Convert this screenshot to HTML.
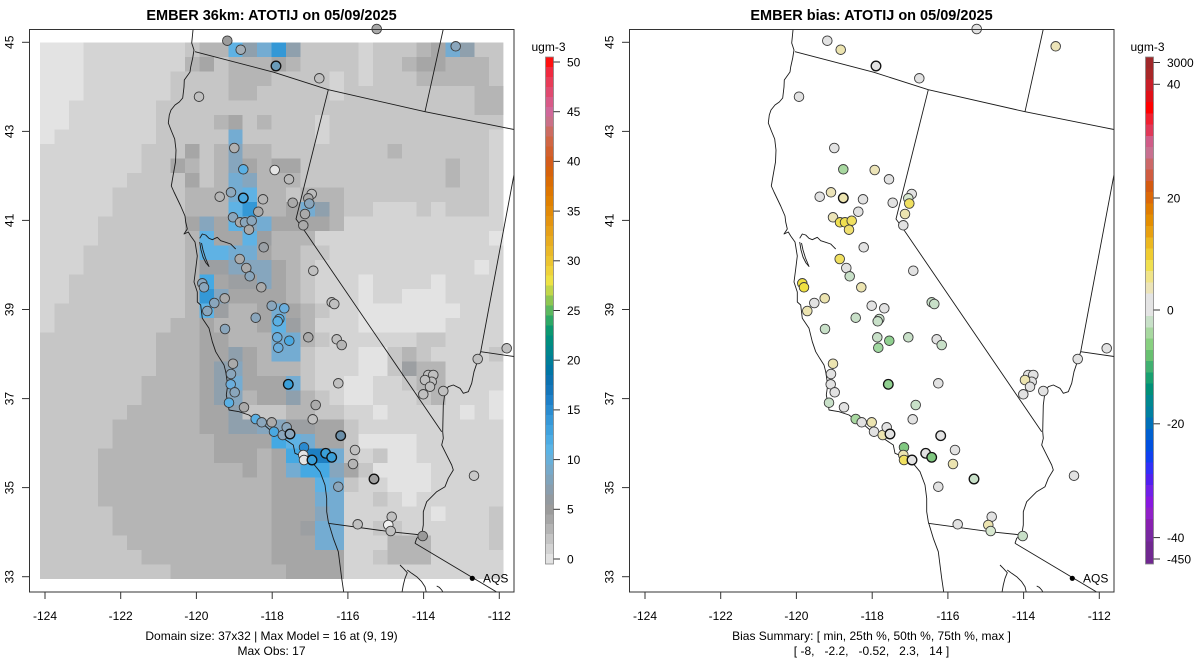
<!DOCTYPE html>
<html><head><meta charset="utf-8"><style>
html,body{margin:0;padding:0;background:#fff}
svg{display:block}
text{font-family:"Liberation Sans",Arial,sans-serif;fill:#000}
.k0{fill:#e3e3e3}.k1{fill:#d4d4d4}.k3{fill:#b5b5b5}.k4{fill:#a6a6a6}.k5{fill:#9c9fa2}.k6{fill:#8fa0ad}.k7{fill:#86a6be}.k8{fill:#74acd2}.k9{fill:#5fb2e4}.ka{fill:#45a9e3}.kb{fill:#3498d6}.kc{fill:#1d80c4}
.ln{fill:none;stroke:#1a1a1a;stroke-width:0.9;stroke-linejoin:round}
.st circle{stroke:#3a3a3a;stroke-width:0.9}
.st circle.t{stroke:#111;stroke-width:1.3}
.tk{stroke:#333;stroke-width:1}
.lab{font-size:12px}
</style></head><body>
<svg width="1200" height="672" viewBox="0 0 1200 672" xmlns="http://www.w3.org/2000/svg">
<defs>
<clipPath id="pc"><rect x="29" y="29" width="485" height="563"/></clipPath>
</defs>
<rect width="1200" height="672" fill="#fff"/>

<!-- LEFT GRID -->
<svg x="40" y="42.3" width="463.4" height="536.7" viewBox="0 0 32 37" preserveAspectRatio="none" shape-rendering="crispEdges">
<rect x="0" y="0" width="32" height="37" fill="#c6c6c6"/>
<path class="k0" d="M0 0h3v1h-3z"/><path class="k1" d="M3 0h7v1h-7z"/><path class="k3" d="M11 0h2v1h-2z"/><path class="k9" d="M13 0h1v1h-1z"/><path class="k6" d="M14 0h1v1h-1z"/><path class="k8" d="M15 0h1v1h-1z"/><path class="kb" d="M16 0h1v1h-1z"/><path class="k6" d="M17 0h1v1h-1z"/><path class="k1" d="M22 0h1v1h-1z"/><path class="k3" d="M26 0h1v1h-1z"/><path class="k4" d="M27 0h1v1h-1z"/><path class="k8" d="M28 0h1v1h-1z"/><path class="k6" d="M29 0h1v1h-1z"/>
<path class="k0" d="M0 1h3v1h-3z"/><path class="k1" d="M3 1h7v1h-7z"/><path class="k3" d="M10 1h1v1h-1z"/><path class="k4" d="M11 1h1v1h-1z"/><path class="k3" d="M13 1h3v1h-3z"/><path class="k4" d="M16 1h1v1h-1z"/><path class="k3" d="M17 1h1v1h-1z"/><path class="k1" d="M22 1h1v1h-1z"/><path class="k3" d="M25 1h1v1h-1z"/><path class="k4" d="M26 1h2v1h-2z"/><path class="k3" d="M28 1h3v1h-3z"/>
<path class="k0" d="M0 2h3v1h-3z"/><path class="k1" d="M3 2h6v1h-6z"/><path class="k3" d="M13 2h3v1h-3z"/><path class="k1" d="M20 2h1v1h-1z"/><path class="k1" d="M22 2h1v1h-1z"/><path class="k3" d="M26 2h5v1h-5z"/>
<path class="k0" d="M0 3h3v1h-3z"/><path class="k1" d="M3 3h6v1h-6z"/><path class="k3" d="M13 3h2v1h-2z"/><path class="k1" d="M20 3h1v1h-1z"/><path class="k3" d="M30 3h2v1h-2z"/>
<path class="k0" d="M0 4h2v1h-2z"/><path class="k1" d="M2 4h6v1h-6z"/><path class="k3" d="M30 4h2v1h-2z"/>
<path class="k0" d="M0 5h2v1h-2z"/><path class="k1" d="M2 5h6v1h-6z"/><path class="k3" d="M12 5h1v1h-1z"/><path class="k4" d="M13 5h1v1h-1z"/><path class="k3" d="M15 5h1v1h-1z"/><path class="k1" d="M19 5h1v1h-1z"/>
<path class="k0" d="M0 6h1v1h-1z"/><path class="k1" d="M1 6h7v1h-7z"/><path class="k8" d="M13 6h1v1h-1z"/><path class="k1" d="M19 6h1v1h-1z"/><path class="k1" d="M31 6h1v1h-1z"/>
<path class="k1" d="M0 7h7v1h-7z"/><path class="k4" d="M10 7h1v1h-1z"/><path class="k3" d="M12 7h1v1h-1z"/><path class="k7" d="M13 7h1v1h-1z"/><path class="k3" d="M14 7h2v1h-2z"/><path class="k3" d="M24 7h1v1h-1z"/><path class="k1" d="M31 7h1v1h-1z"/>
<path class="k1" d="M0 8h7v1h-7z"/><path class="k4" d="M9 8h1v1h-1z"/><path class="k3" d="M10 8h1v1h-1z"/><path class="k3" d="M12 8h1v1h-1z"/><path class="k7" d="M13 8h1v1h-1z"/><path class="k4" d="M14 8h1v1h-1z"/><path class="k3" d="M15 8h1v1h-1z"/><path class="k4" d="M16 8h2v1h-2z"/><path class="k3" d="M28 8h1v1h-1z"/><path class="k1" d="M31 8h1v1h-1z"/>
<path class="k1" d="M0 9h6v1h-6z"/><path class="k4" d="M10 9h1v1h-1z"/><path class="k3" d="M12 9h1v1h-1z"/><path class="k8" d="M13 9h1v1h-1z"/><path class="k7" d="M14 9h1v1h-1z"/><path class="k3" d="M15 9h3v1h-3z"/><path class="k3" d="M28 9h1v1h-1z"/><path class="k1" d="M31 9h1v1h-1z"/>
<path class="k1" d="M0 10h5v1h-5z"/><path class="k3" d="M10 10h3v1h-3z"/><path class="k8" d="M13 10h1v1h-1z"/><path class="k9" d="M14 10h1v1h-1z"/><path class="k3" d="M15 10h2v1h-2z"/><path class="k3" d="M18 10h3v1h-3z"/><path class="k1" d="M31 10h1v1h-1z"/>
<path class="k1" d="M0 11h5v1h-5z"/><path class="k3" d="M10 11h3v1h-3z"/><path class="k9" d="M13 11h1v1h-1z"/><path class="kb" d="M14 11h1v1h-1z"/><path class="k3" d="M15 11h2v1h-2z"/><path class="k4" d="M17 11h1v1h-1z"/><path class="k8" d="M18 11h1v1h-1z"/><path class="k6" d="M19 11h1v1h-1z"/><path class="k3" d="M20 11h1v1h-1z"/><path class="k1" d="M23 11h3v1h-3z"/><path class="k1" d="M27 11h1v1h-1z"/><path class="k1" d="M31 11h1v1h-1z"/>
<path class="k1" d="M0 12h4v1h-4z"/><path class="k4" d="M10 12h1v1h-1z"/><path class="k7" d="M11 12h1v1h-1z"/><path class="k4" d="M12 12h1v1h-1z"/><path class="k9" d="M13 12h1v1h-1z"/><path class="k7" d="M14 12h1v1h-1z"/><path class="k8" d="M15 12h1v1h-1z"/><path class="k4" d="M16 12h4v1h-4z"/><path class="k3" d="M20 12h1v1h-1z"/><path class="k1" d="M21 12h11v1h-11z"/>
<path class="k1" d="M0 13h4v1h-4z"/><path class="k3" d="M10 13h1v1h-1z"/><path class="k9" d="M11 13h1v1h-1z"/><path class="k4" d="M12 13h2v1h-2z"/><path class="k9" d="M14 13h1v1h-1z"/><path class="k5" d="M15 13h1v1h-1z"/><path class="k3" d="M16 13h3v1h-3z"/><path class="k1" d="M19 13h12v1h-12z"/><path class="k0" d="M31 13h1v1h-1z"/>
<path class="k1" d="M0 14h3v1h-3z"/><path class="k3" d="M10 14h1v1h-1z"/><path class="k9" d="M11 14h2v1h-2z"/><path class="k8" d="M13 14h2v1h-2z"/><path class="k4" d="M15 14h1v1h-1z"/><path class="k3" d="M16 14h2v1h-2z"/><path class="k1" d="M20 14h12v1h-12z"/>
<path class="k1" d="M0 15h3v1h-3z"/><path class="k3" d="M10 15h1v1h-1z"/><path class="k5" d="M11 15h2v1h-2z"/><path class="k7" d="M13 15h3v1h-3z"/><path class="k4" d="M16 15h1v1h-1z"/><path class="k3" d="M17 15h1v1h-1z"/><path class="k1" d="M19 15h11v1h-11z"/><path class="k0" d="M30 15h1v1h-1z"/><path class="k1" d="M31 15h1v1h-1z"/>
<path class="k1" d="M0 16h2v1h-2z"/><path class="k3" d="M10 16h1v1h-1z"/><path class="ka" d="M11 16h1v1h-1z"/><path class="k4" d="M12 16h1v1h-1z"/><path class="k5" d="M13 16h2v1h-2z"/><path class="k7" d="M15 16h1v1h-1z"/><path class="k4" d="M16 16h1v1h-1z"/><path class="k3" d="M17 16h1v1h-1z"/><path class="k1" d="M19 16h3v1h-3z"/><path class="k0" d="M22 16h1v1h-1z"/><path class="k1" d="M23 16h4v1h-4z"/><path class="k0" d="M27 16h1v1h-1z"/><path class="k1" d="M28 16h4v1h-4z"/>
<path class="k1" d="M0 17h2v1h-2z"/><path class="k3" d="M10 17h1v1h-1z"/><path class="kb" d="M11 17h1v1h-1z"/><path class="k7" d="M12 17h1v1h-1z"/><path class="k4" d="M13 17h4v1h-4z"/><path class="k3" d="M17 17h1v1h-1z"/><path class="k1" d="M19 17h3v1h-3z"/><path class="k0" d="M22 17h1v1h-1z"/><path class="k1" d="M23 17h2v1h-2z"/><path class="k0" d="M25 17h3v1h-3z"/><path class="k1" d="M28 17h4v1h-4z"/>
<path class="k1" d="M0 18h1v1h-1z"/><path class="k3" d="M10 18h1v1h-1z"/><path class="k9" d="M11 18h1v1h-1z"/><path class="k5" d="M12 18h1v1h-1z"/><path class="k3" d="M13 18h2v1h-2z"/><path class="k4" d="M15 18h1v1h-1z"/><path class="k8" d="M16 18h1v1h-1z"/><path class="k4" d="M17 18h1v1h-1z"/><path class="k3" d="M18 18h1v1h-1z"/><path class="k1" d="M20 18h2v1h-2z"/><path class="k0" d="M22 18h7v1h-7z"/><path class="k1" d="M29 18h3v1h-3z"/>
<path class="k1" d="M0 19h1v1h-1z"/><path class="k3" d="M9 19h2v1h-2z"/><path class="k4" d="M11 19h1v1h-1z"/><path class="k3" d="M12 19h3v1h-3z"/><path class="k4" d="M15 19h1v1h-1z"/><path class="k9" d="M16 19h1v1h-1z"/><path class="k5" d="M17 19h1v1h-1z"/><path class="k3" d="M18 19h1v1h-1z"/><path class="k1" d="M19 19h3v1h-3z"/><path class="k0" d="M22 19h6v1h-6z"/><path class="k1" d="M28 19h4v1h-4z"/>
<path class="k3" d="M8 20h3v1h-3z"/><path class="k4" d="M11 20h2v1h-2z"/><path class="k3" d="M13 20h3v1h-3z"/><path class="k8" d="M16 20h2v1h-2z"/><path class="k3" d="M18 20h1v1h-1z"/><path class="k1" d="M20 20h6v1h-6z"/><path class="k1" d="M28 20h4v1h-4z"/>
<path class="k3" d="M8 21h3v1h-3z"/><path class="k4" d="M11 21h2v1h-2z"/><path class="k6" d="M13 21h1v1h-1z"/><path class="k4" d="M14 21h1v1h-1z"/><path class="k3" d="M15 21h1v1h-1z"/><path class="k8" d="M16 21h2v1h-2z"/><path class="k1" d="M19 21h3v1h-3z"/><path class="k0" d="M22 21h2v1h-2z"/><path class="k3" d="M25 21h1v1h-1z"/><path class="k1" d="M27 21h4v1h-4z"/>
<path class="k3" d="M8 22h3v1h-3z"/><path class="k4" d="M11 22h1v1h-1z"/><path class="k6" d="M12 22h1v1h-1z"/><path class="k7" d="M13 22h1v1h-1z"/><path class="k4" d="M14 22h1v1h-1z"/><path class="k3" d="M15 22h3v1h-3z"/><path class="k1" d="M19 22h3v1h-3z"/><path class="k0" d="M22 22h2v1h-2z"/><path class="k5" d="M25 22h1v1h-1z"/><path class="k3" d="M26 22h2v1h-2z"/><path class="k1" d="M28 22h4v1h-4z"/>
<path class="k3" d="M7 23h4v1h-4z"/><path class="k4" d="M11 23h1v1h-1z"/><path class="k6" d="M12 23h1v1h-1z"/><path class="k8" d="M13 23h1v1h-1z"/><path class="k4" d="M14 23h3v1h-3z"/><path class="k8" d="M17 23h1v1h-1z"/><path class="k1" d="M19 23h2v1h-2z"/><path class="k0" d="M21 23h2v1h-2z"/><path class="k1" d="M23 23h2v1h-2z"/><path class="k3" d="M26 23h2v1h-2z"/><path class="k1" d="M28 23h4v1h-4z"/>
<path class="k3" d="M7 24h4v1h-4z"/><path class="k4" d="M11 24h1v1h-1z"/><path class="k6" d="M12 24h1v1h-1z"/><path class="k7" d="M13 24h1v1h-1z"/><path class="k3" d="M14 24h1v1h-1z"/><path class="k4" d="M15 24h2v1h-2z"/><path class="k6" d="M17 24h1v1h-1z"/><path class="k3" d="M18 24h1v1h-1z"/><path class="k1" d="M20 24h1v1h-1z"/><path class="k0" d="M21 24h2v1h-2z"/><path class="k1" d="M23 24h3v1h-3z"/><path class="k3" d="M27 24h1v1h-1z"/><path class="k1" d="M28 24h3v1h-3z"/><path class="k0" d="M31 24h1v1h-1z"/>
<path class="k3" d="M6 25h5v1h-5z"/><path class="k4" d="M11 25h2v1h-2z"/><path class="k6" d="M13 25h1v1h-1z"/><path class="k3" d="M17 25h2v1h-2z"/><path class="k1" d="M21 25h2v1h-2z"/><path class="k0" d="M23 25h1v1h-1z"/><path class="k1" d="M24 25h5v1h-5z"/><path class="k0" d="M29 25h1v1h-1z"/><path class="k1" d="M30 25h1v1h-1z"/><path class="k0" d="M31 25h1v1h-1z"/>
<path class="k3" d="M5 26h6v1h-6z"/><path class="k4" d="M11 26h2v1h-2z"/><path class="k6" d="M13 26h2v1h-2z"/><path class="k7" d="M15 26h2v1h-2z"/><path class="k5" d="M17 26h2v1h-2z"/><path class="k4" d="M19 26h2v1h-2z"/><path class="k1" d="M22 26h10v1h-10z"/>
<path class="k3" d="M5 27h7v1h-7z"/><path class="k4" d="M12 27h4v1h-4z"/><path class="ka" d="M16 27h1v1h-1z"/><path class="k9" d="M17 27h1v1h-1z"/><path class="k8" d="M18 27h1v1h-1z"/><path class="k4" d="M19 27h2v1h-2z"/><path class="k0" d="M22 27h4v1h-4z"/><path class="k1" d="M26 27h6v1h-6z"/>
<path class="k3" d="M4 28h8v1h-8z"/><path class="k4" d="M12 28h3v1h-3z"/><path class="k3" d="M15 28h1v1h-1z"/><path class="k4" d="M16 28h1v1h-1z"/><path class="ka" d="M17 28h1v1h-1z"/><path class="kc" d="M18 28h2v1h-2z"/><path class="k8" d="M20 28h1v1h-1z"/><path class="k1" d="M22 28h1v1h-1z"/><path class="k0" d="M24 28h2v1h-2z"/><path class="k1" d="M26 28h6v1h-6z"/>
<path class="k3" d="M4 29h10v1h-10z"/><path class="k4" d="M14 29h1v1h-1z"/><path class="k3" d="M15 29h1v1h-1z"/><path class="k4" d="M16 29h1v1h-1z"/><path class="k8" d="M17 29h1v1h-1z"/><path class="ka" d="M18 29h2v1h-2z"/><path class="k7" d="M20 29h1v1h-1z"/><path class="k4" d="M21 29h1v1h-1z"/><path class="k0" d="M23 29h4v1h-4z"/><path class="k1" d="M27 29h5v1h-5z"/>
<path class="k3" d="M4 30h12v1h-12z"/><path class="k4" d="M16 30h3v1h-3z"/><path class="k9" d="M19 30h1v1h-1z"/><path class="k8" d="M20 30h1v1h-1z"/><path class="k1" d="M22 30h2v1h-2z"/><path class="k0" d="M24 30h3v1h-3z"/><path class="k1" d="M27 30h5v1h-5z"/>
<path class="k3" d="M4 31h12v1h-12z"/><path class="k4" d="M16 31h3v1h-3z"/><path class="k8" d="M19 31h2v1h-2z"/><path class="k1" d="M21 31h2v1h-2z"/><path class="k1" d="M24 31h1v1h-1z"/><path class="k0" d="M25 31h1v1h-1z"/><path class="k1" d="M26 31h6v1h-6z"/>
<path class="k3" d="M5 32h11v1h-11z"/><path class="k4" d="M16 32h3v1h-3z"/><path class="k7" d="M19 32h1v1h-1z"/><path class="k8" d="M20 32h1v1h-1z"/><path class="k1" d="M21 32h6v1h-6z"/><path class="k0" d="M27 32h1v1h-1z"/><path class="k1" d="M28 32h3v1h-3z"/>
<path class="k3" d="M5 33h11v1h-11z"/><path class="k4" d="M16 33h2v1h-2z"/><path class="k5" d="M18 33h1v1h-1z"/><path class="k8" d="M19 33h2v1h-2z"/><path class="k1" d="M21 33h2v1h-2z"/><path class="k1" d="M25 33h6v1h-6z"/>
<path class="k3" d="M6 34h10v1h-10z"/><path class="k4" d="M16 34h3v1h-3z"/><path class="k8" d="M19 34h2v1h-2z"/><path class="k1" d="M21 34h3v1h-3z"/><path class="k3" d="M24 34h3v1h-3z"/><path class="k1" d="M27 34h4v1h-4z"/>
<path class="k3" d="M7 35h9v1h-9z"/><path class="k4" d="M16 35h5v1h-5z"/><path class="k1" d="M21 35h2v1h-2z"/><path class="k3" d="M24 35h3v1h-3z"/><path class="k1" d="M27 35h5v1h-5z"/>
<path class="k3" d="M9 36h8v1h-8z"/><path class="k4" d="M17 36h4v1h-4z"/><path class="k1" d="M21 36h11v1h-11z"/>
</svg>

<!-- MAP LINES (left) -->
<g id="lines" clip-path="url(#pc)">
<polyline class="ln" points="193.3,27 192.7,33 191.7,43 194,50 192.7,58 190.7,67 190,72 184.3,80 184,87 182.7,98 179.3,102 175,105 171,110 169.3,115 168.3,123 171,130 174.7,139 176,150 175.5,162 173,176 171.3,186 174,192 180.7,206 185,216 185.7,222 187.3,229 184,234 188.3,232 190.7,236 195,242 197.3,256 195.7,269 194,282 197.3,292 197.3,302 200.7,305 202.3,318.3 209,328.3 212.3,341.7 215.7,351.7 219.7,358.3 224,365 225.7,371.7 227.7,385 226.3,395 228.3,405 229,410 239,411.7 249,415 255.7,420 262.3,423.3 270,430 283.3,438.3 293.3,445 295,453.3 303.3,456.7 311.7,461.7 320,471.7 325,485 326.7,498.3 326.7,511.7 328.3,521.7 333.3,538.3 338.3,551.7 340,565 341.7,578.3 344,594"/>
<polyline class="ln" points="199.7,238.3 202.3,234 205.7,235 209,238.3 212.3,239.7 217.3,237.3 220.7,240.7 225.7,242.3 230.7,244 233,246.3 235.7,249"/>
<polyline class="ln" points="199.7,242 201,250 203,257 206,263 209,266.5 205.5,258 203,250 201.5,243"/>
<polyline class="ln" points="195,51.7 274,72.3 328.3,89.7 425,111.7 516,129.9"/>
<polyline class="ln" points="425,111.7 443.3,29 444.5,26"/>
<polyline class="ln" points="328.3,89.7 296,219 303.3,229 441.7,431.7"/>
<polyline class="ln" points="516,164 488.3,311 480.7,351.7 516,356.8"/>
<polyline class="ln" points="480.7,351.7 474,371.7 471.7,383.3 468.3,391.7 463.3,393.3 460,388.3 453.3,385 448.3,386.7 445,391.7 443.3,405 442.7,431.7 443.3,438.3 441.7,445 445,451.7 451.7,465 453.3,470 448.3,478.3 445,486.7 436.7,491.7 426.7,501.7 423.3,511.7 423.3,525 421.7,535 416.7,538.3 415,543.3"/>
<polyline class="ln" points="328.3,523.3 390,531.7 421.7,535"/>
<polyline class="ln" points="415,543.3 500,594"/>
<polyline class="ln" points="400,565 403.3,568.3 407.3,572.7 405,578.3 403.3,585 401.7,594"/>
<polyline class="ln" points="407.3,570 411.7,573.3 416.7,576.7 421.7,581.7 425,586.7 426.7,594"/>
<polyline class="ln" points="436.7,586 439.3,587.3 441.7,590 444,594"/>
</g>
<use href="#lines" transform="translate(600,0)"/>

<!-- LEFT STATIONS -->
<g class="st">
<circle cx="227.3" cy="40.7" r="4.8" fill="#9c9c9c"/>
<circle cx="240.7" cy="49.7" r="4.8" fill="#a3adb5"/>
<circle class="t" cx="276" cy="66" r="4.8" fill="#6a9bb8"/>
<circle cx="319.3" cy="78.3" r="4.8" fill="#c0c0c0"/>
<circle cx="376.7" cy="29" r="4.8" fill="#aaaaaa"/>
<circle cx="455.7" cy="46.3" r="4.8" fill="#8aa6bc"/>
<circle cx="199" cy="96.7" r="4.8" fill="#c0c0c0"/>
<circle cx="234.3" cy="148" r="4.8" fill="#b0b0b0"/>
<circle cx="243.3" cy="169.3" r="4.8" fill="#5ab0e4"/>
<circle cx="274.7" cy="170" r="4.8" fill="#e4e4e4"/>
<circle cx="289" cy="179.3" r="4.8" fill="#bbbbbb"/>
<circle cx="219.7" cy="196.7" r="4.8" fill="#b5b5b5"/>
<circle cx="231" cy="192.3" r="4.8" fill="#8ea8bc"/>
<circle class="t" cx="243.3" cy="198" r="4.8" fill="#4aa8e0"/>
<circle cx="263" cy="199.3" r="4.8" fill="#b5b5b5"/>
<circle cx="258.3" cy="211.7" r="4.8" fill="#aaaaaa"/>
<circle cx="233" cy="217.3" r="4.8" fill="#8aa6bc"/>
<circle cx="240" cy="222.3" r="4.8" fill="#aaaaaa"/>
<circle cx="245" cy="222.3" r="4.8" fill="#8aa6bc"/>
<circle cx="251.7" cy="220.7" r="4.8" fill="#8aa6bc"/>
<circle cx="249" cy="229.7" r="4.8" fill="#aaaaaa"/>
<circle cx="263.7" cy="247.3" r="4.8" fill="#9aa0a6"/>
<circle cx="239.7" cy="259" r="4.8" fill="#aaaaaa"/>
<circle cx="246.3" cy="268" r="4.8" fill="#aaaaaa"/>
<circle cx="249.7" cy="276.3" r="4.8" fill="#8aa6bc"/>
<circle cx="261.3" cy="287.3" r="4.8" fill="#aaaaaa"/>
<circle cx="202.3" cy="283.3" r="4.8" fill="#8aa6bc"/>
<circle cx="204" cy="287.3" r="4.8" fill="#8aa6bc"/>
<circle cx="214.3" cy="303" r="4.8" fill="#8aa6bc"/>
<circle cx="224.7" cy="298.3" r="4.8" fill="#aaaaaa"/>
<circle cx="207.3" cy="311" r="4.8" fill="#8aa6bc"/>
<circle cx="225" cy="329" r="4.8" fill="#8aa6bc"/>
<circle cx="255.7" cy="317.7" r="4.8" fill="#8aa6bc"/>
<circle cx="271.7" cy="305.7" r="4.8" fill="#8aa6bc"/>
<circle cx="284.3" cy="308.3" r="4.8" fill="#6aaedd"/>
<circle cx="279.3" cy="319" r="4.8" fill="#5ab0e4"/>
<circle cx="277.7" cy="321.3" r="4.8" fill="#5ab0e4"/>
<circle cx="277.3" cy="337.3" r="4.8" fill="#6aaedd"/>
<circle cx="289.3" cy="340.7" r="4.8" fill="#4aa8e0"/>
<circle cx="278.3" cy="347.7" r="4.8" fill="#6aaedd"/>
<circle cx="308.3" cy="337.3" r="4.8" fill="#aaaaaa"/>
<circle cx="336.7" cy="339.3" r="4.8" fill="#c0c0c0"/>
<circle cx="341.7" cy="345" r="4.8" fill="#b5b5b5"/>
<circle cx="331.7" cy="302.3" r="4.8" fill="#c0c0c0"/>
<circle cx="334.3" cy="304" r="4.8" fill="#c0c0c0"/>
<circle cx="313.3" cy="270.7" r="4.8" fill="#c0c0c0"/>
<circle cx="292.7" cy="202.7" r="4.8" fill="#aaaaaa"/>
<circle cx="311.7" cy="194" r="4.8" fill="#bbbbbb"/>
<circle cx="308.3" cy="198.3" r="4.8" fill="#aaaaaa"/>
<circle cx="309.3" cy="203.5" r="4.8" fill="#8aa6bc"/>
<circle cx="305" cy="214" r="4.8" fill="#aaaaaa"/>
<circle cx="303.3" cy="225.3" r="4.8" fill="#aaaaaa"/>
<circle class="t" cx="288.3" cy="384.3" r="4.8" fill="#3a9fd9"/>
<circle cx="338.3" cy="383.3" r="4.8" fill="#c0c0c0"/>
<circle cx="233" cy="363.7" r="4.8" fill="#aaaaaa"/>
<circle cx="231" cy="374" r="4.8" fill="#8aa6bc"/>
<circle cx="230.7" cy="384.3" r="4.8" fill="#6aaedd"/>
<circle cx="234.7" cy="392.3" r="4.8" fill="#8aa6bc"/>
<circle cx="229" cy="402.7" r="4.8" fill="#5ab0e4"/>
<circle cx="244" cy="407.3" r="4.8" fill="#aaaaaa"/>
<circle cx="255.7" cy="419" r="4.8" fill="#5ab0e4"/>
<circle cx="261.7" cy="422.3" r="4.8" fill="#8aa6bc"/>
<circle cx="271.7" cy="422.3" r="4.8" fill="#aaaaaa"/>
<circle cx="274" cy="431.7" r="4.8" fill="#4aa8e0"/>
<circle cx="282.7" cy="435" r="4.8" fill="#8aa6bc"/>
<circle cx="286.7" cy="427.3" r="4.8" fill="#8aa6bc"/>
<circle class="t" cx="290" cy="434" r="4.8" fill="#8aa6bc"/>
<circle cx="315.7" cy="405" r="4.8" fill="#aaaaaa"/>
<circle cx="312.7" cy="419.3" r="4.8" fill="#c0c0c0"/>
<circle class="t" cx="340.7" cy="435.7" r="4.8" fill="#6a8ea8"/>
<circle cx="304" cy="447.3" r="4.8" fill="#2a8ad0"/>
<circle cx="303.3" cy="455" r="4.8" fill="#e4e4e4"/>
<circle cx="304" cy="460" r="4.8" fill="#e4e4e4"/>
<circle class="t" cx="312" cy="460" r="4.8" fill="#3a9fd9"/>
<circle class="t" cx="325.7" cy="453.3" r="4.8" fill="#3a9fd9"/>
<circle class="t" cx="331.7" cy="457.3" r="4.8" fill="#3a9fd9"/>
<circle cx="355" cy="450" r="4.8" fill="#c0c0c0"/>
<circle cx="353" cy="464" r="4.8" fill="#b5b5b5"/>
<circle class="t" cx="374" cy="479" r="4.8" fill="#a0a0a0"/>
<circle cx="338.3" cy="486.7" r="4.8" fill="#8aa6bc"/>
<circle cx="474" cy="475.7" r="4.8" fill="#c8c8c8"/>
<circle cx="428.3" cy="375" r="4.8" fill="#c0c0c0"/>
<circle cx="433.3" cy="375" r="4.8" fill="#c0c0c0"/>
<circle cx="431.7" cy="381.7" r="4.8" fill="#c0c0c0"/>
<circle cx="425" cy="380" r="4.8" fill="#c0c0c0"/>
<circle cx="430" cy="386.7" r="4.8" fill="#c0c0c0"/>
<circle cx="423.3" cy="394.3" r="4.8" fill="#c0c0c0"/>
<circle cx="443.3" cy="391" r="4.8" fill="#c0c0c0"/>
<circle cx="477.7" cy="359" r="4.8" fill="#c0c0c0"/>
<circle cx="506.7" cy="348.3" r="4.8" fill="#c0c0c0"/>
<circle cx="357.7" cy="524.3" r="4.8" fill="#c0c0c0"/>
<circle cx="391.7" cy="516.7" r="4.8" fill="#c0c0c0"/>
<circle cx="388.3" cy="525" r="4.8" fill="#f0f0f0"/>
<circle cx="390.7" cy="531" r="4.8" fill="#c0c0c0"/>
<circle cx="422.7" cy="536" r="4.8" fill="#999999"/>
</g>

<!-- RIGHT STATIONS -->
<g class="st" transform="translate(600,0)">
<circle cx="227.3" cy="40.7" r="4.8" fill="#e2e2e2"/>
<circle cx="240.7" cy="49.7" r="4.8" fill="#ece4b0"/>
<circle class="t" cx="276" cy="66" r="4.8" fill="#e2e2e2"/>
<circle cx="319.3" cy="78.3" r="4.8" fill="#e2e2e2"/>
<circle cx="376.7" cy="29" r="4.8" fill="#e2e2e2"/>
<circle cx="455.7" cy="46.3" r="4.8" fill="#ece4b8"/>
<circle cx="199" cy="96.7" r="4.8" fill="#e2e2e2"/>
<circle cx="234.3" cy="148" r="4.8" fill="#e2e2e2"/>
<circle cx="243.3" cy="169.3" r="4.8" fill="#a8d8a0"/>
<circle cx="274.7" cy="170" r="4.8" fill="#ece4b8"/>
<circle cx="289" cy="179.3" r="4.8" fill="#e2e2e2"/>
<circle cx="219.7" cy="196.7" r="4.8" fill="#e2e2e2"/>
<circle cx="231" cy="192.3" r="4.8" fill="#ece4b8"/>
<circle class="t" cx="243.3" cy="198" r="4.8" fill="#ece4b0"/>
<circle cx="263" cy="199.3" r="4.8" fill="#e2e2e2"/>
<circle cx="258.3" cy="211.7" r="4.8" fill="#e2e2e2"/>
<circle cx="233" cy="217.3" r="4.8" fill="#ece4b8"/>
<circle cx="240" cy="222.3" r="4.8" fill="#f0e050"/>
<circle cx="245" cy="222.3" r="4.8" fill="#f0e050"/>
<circle cx="251.7" cy="220.7" r="4.8" fill="#f0e060"/>
<circle cx="249" cy="229.7" r="4.8" fill="#f0e070"/>
<circle cx="263.7" cy="247.3" r="4.8" fill="#e2e2e2"/>
<circle cx="239.7" cy="259" r="4.8" fill="#f0e060"/>
<circle cx="246.3" cy="268" r="4.8" fill="#e2e2e2"/>
<circle cx="249.7" cy="276.3" r="4.8" fill="#c8e0c8"/>
<circle cx="261.3" cy="287.3" r="4.8" fill="#ece4b0"/>
<circle cx="202.3" cy="283.3" r="4.8" fill="#f0e040"/>
<circle cx="204" cy="287.3" r="4.8" fill="#f0e040"/>
<circle cx="214.3" cy="303" r="4.8" fill="#e2e2e2"/>
<circle cx="224.7" cy="298.3" r="4.8" fill="#ece4b0"/>
<circle cx="207.3" cy="311" r="4.8" fill="#ece4b0"/>
<circle cx="225" cy="329" r="4.8" fill="#c8e0c8"/>
<circle cx="255.7" cy="317.7" r="4.8" fill="#c8e0c8"/>
<circle cx="271.7" cy="305.7" r="4.8" fill="#e2e2e2"/>
<circle cx="284.3" cy="308.3" r="4.8" fill="#e2e2e2"/>
<circle cx="279.3" cy="319" r="4.8" fill="#c8e0c8"/>
<circle cx="277.7" cy="321.3" r="4.8" fill="#c8e0c8"/>
<circle cx="277.3" cy="337.3" r="4.8" fill="#c8e0c8"/>
<circle cx="289.3" cy="340.7" r="4.8" fill="#90d090"/>
<circle cx="278.3" cy="347.7" r="4.8" fill="#a0d8a0"/>
<circle cx="308.3" cy="337.3" r="4.8" fill="#c8e0c8"/>
<circle cx="336.7" cy="339.3" r="4.8" fill="#e2e2e2"/>
<circle cx="341.7" cy="345" r="4.8" fill="#c8e0c8"/>
<circle cx="331.7" cy="302.3" r="4.8" fill="#c8e0c8"/>
<circle cx="334.3" cy="304" r="4.8" fill="#c8e0c8"/>
<circle cx="313.3" cy="270.7" r="4.8" fill="#e2e2e2"/>
<circle cx="292.7" cy="202.7" r="4.8" fill="#e2e2e2"/>
<circle cx="311.7" cy="194" r="4.8" fill="#e2e2e2"/>
<circle cx="308.3" cy="198.3" r="4.8" fill="#d8e8d0"/>
<circle cx="309.3" cy="203.5" r="4.8" fill="#f0e060"/>
<circle cx="305" cy="214" r="4.8" fill="#ece4b0"/>
<circle cx="303.3" cy="225.3" r="4.8" fill="#e2e2e2"/>
<circle class="t" cx="288.3" cy="384.3" r="4.8" fill="#90d090"/>
<circle cx="338.3" cy="383.3" r="4.8" fill="#e2e2e2"/>
<circle cx="233" cy="363.7" r="4.8" fill="#ece4b0"/>
<circle cx="231" cy="374" r="4.8" fill="#e2e2e2"/>
<circle cx="230.7" cy="384.3" r="4.8" fill="#e2e2e2"/>
<circle cx="234.7" cy="392.3" r="4.8" fill="#e2e2e2"/>
<circle cx="229" cy="402.7" r="4.8" fill="#c8e0c8"/>
<circle cx="244" cy="407.3" r="4.8" fill="#e2e2e2"/>
<circle cx="255.7" cy="419" r="4.8" fill="#a8d8a0"/>
<circle cx="261.7" cy="422.3" r="4.8" fill="#e2e2e2"/>
<circle cx="271.7" cy="422.3" r="4.8" fill="#ece4b0"/>
<circle cx="274" cy="431.7" r="4.8" fill="#e2e2e2"/>
<circle cx="282.7" cy="435" r="4.8" fill="#ece4b0"/>
<circle cx="286.7" cy="427.3" r="4.8" fill="#e2e2e2"/>
<circle class="t" cx="290" cy="434" r="4.8" fill="#e2e2e2"/>
<circle cx="315.7" cy="405" r="4.8" fill="#c8e0c8"/>
<circle cx="312.7" cy="419.3" r="4.8" fill="#e2e2e2"/>
<circle class="t" cx="340.7" cy="435.7" r="4.8" fill="#e2e2e2"/>
<circle cx="304" cy="447.3" r="4.8" fill="#80c880"/>
<circle cx="303.3" cy="455" r="4.8" fill="#ece4b0"/>
<circle cx="304" cy="460" r="4.8" fill="#f0e060"/>
<circle class="t" cx="312" cy="460" r="4.8" fill="#e2e2e2"/>
<circle class="t" cx="325.7" cy="453.3" r="4.8" fill="#e2e2e2"/>
<circle class="t" cx="331.7" cy="457.3" r="4.8" fill="#80c880"/>
<circle cx="355" cy="450" r="4.8" fill="#e2e2e2"/>
<circle cx="353" cy="464" r="4.8" fill="#ece4b0"/>
<circle class="t" cx="374" cy="479" r="4.8" fill="#c8e0c8"/>
<circle cx="338.3" cy="486.7" r="4.8" fill="#e2e2e2"/>
<circle cx="474" cy="475.7" r="4.8" fill="#e2e2e2"/>
<circle cx="428.3" cy="375" r="4.8" fill="#e2e2e2"/>
<circle cx="433.3" cy="375" r="4.8" fill="#e2e2e2"/>
<circle cx="431.7" cy="381.7" r="4.8" fill="#e2e2e2"/>
<circle cx="425" cy="380" r="4.8" fill="#ece4b0"/>
<circle cx="430" cy="386.7" r="4.8" fill="#e2e2e2"/>
<circle cx="423.3" cy="394.3" r="4.8" fill="#e2e2e2"/>
<circle cx="443.3" cy="391" r="4.8" fill="#e2e2e2"/>
<circle cx="477.7" cy="359" r="4.8" fill="#e2e2e2"/>
<circle cx="506.7" cy="348.3" r="4.8" fill="#e2e2e2"/>
<circle cx="357.7" cy="524.3" r="4.8" fill="#e2e2e2"/>
<circle cx="391.7" cy="516.7" r="4.8" fill="#e2e2e2"/>
<circle cx="388.3" cy="525" r="4.8" fill="#ece4b0"/>
<circle cx="390.7" cy="531" r="4.8" fill="#d8e8d0"/>
<circle cx="422.7" cy="536" r="4.8" fill="#c8e0c8"/>
</g>

<!-- AQS markers -->
<circle cx="472.3" cy="578.3" r="2.6" fill="#000"/>
<text x="483" y="582.5" class="lab">AQS</text>
<circle cx="1072.3" cy="578.3" r="2.6" fill="#000"/>
<text x="1083" y="582.5" class="lab">AQS</text>

<!-- AXES BOXES -->
<rect x="29.5" y="29.5" width="484.5" height="562.5" fill="none" stroke="#333" stroke-width="1"/>
<rect x="629.5" y="29.5" width="484.5" height="562.5" fill="none" stroke="#333" stroke-width="1"/>

<!-- AXIS TICKS / LABELS -->
<g id="axes">
<g class="tk">
<line x1="45" y1="592" x2="45" y2="599"/><line x1="120.7" y1="592" x2="120.7" y2="599"/><line x1="196.4" y1="592" x2="196.4" y2="599"/><line x1="272.2" y1="592" x2="272.2" y2="599"/><line x1="347.9" y1="592" x2="347.9" y2="599"/><line x1="423.6" y1="592" x2="423.6" y2="599"/><line x1="499.3" y1="592" x2="499.3" y2="599"/>
<line x1="22" y1="576.7" x2="29" y2="576.7"/><line x1="22" y1="487.6" x2="29" y2="487.6"/><line x1="22" y1="398.6" x2="29" y2="398.6"/><line x1="22" y1="309.5" x2="29" y2="309.5"/><line x1="22" y1="220.4" x2="29" y2="220.4"/><line x1="22" y1="131.4" x2="29" y2="131.4"/><line x1="22" y1="42.3" x2="29" y2="42.3"/>
</g>
<g class="lab" text-anchor="middle">
<text x="45" y="620">-124</text><text x="120.7" y="620">-122</text><text x="196.4" y="620">-120</text><text x="272.2" y="620">-118</text><text x="347.9" y="620">-116</text><text x="423.6" y="620">-114</text><text x="499.3" y="620">-112</text>
<text transform="translate(13.5,576.7) rotate(-90)">33</text>
<text transform="translate(13.5,487.6) rotate(-90)">35</text>
<text transform="translate(13.5,398.6) rotate(-90)">37</text>
<text transform="translate(13.5,309.5) rotate(-90)">39</text>
<text transform="translate(13.5,220.4) rotate(-90)">41</text>
<text transform="translate(13.5,131.4) rotate(-90)">43</text>
<text transform="translate(13.5,42.3) rotate(-90)">45</text>
</g>
</g>
<use href="#axes" transform="translate(600,0)"/>

<!-- TITLES -->
<text x="271.5" y="20" text-anchor="middle" style="font-size:14.5px;font-weight:bold">EMBER 36km: ATOTIJ on 05/09/2025</text>
<text x="871.5" y="20" text-anchor="middle" style="font-size:14.5px;font-weight:bold">EMBER bias: ATOTIJ on 05/09/2025</text>
<text x="271.5" y="640" text-anchor="middle" class="lab">Domain size: 37x32 | Max Model = 16 at (9, 19)</text>
<text x="271.5" y="655" text-anchor="middle" class="lab">Max Obs: 17</text>
<text x="871.5" y="640" text-anchor="middle" class="lab" style="white-space:pre" xml:space="preserve">Bias Summary: [ min, 25th %, 50th %, 75th %, max ]</text>
<text x="871.5" y="655" text-anchor="middle" class="lab" style="white-space:pre" xml:space="preserve">[ -8,   -2.2,   -0.52,   2.3,   14 ]</text>

<!-- LEFT COLORBAR -->
<text x="548.5" y="51" text-anchor="middle" class="lab">ugm-3</text>
<g shape-rendering="crispEdges">
<rect x="545.5" y="554.06" width="8" height="9.94" fill="#e2e2e2"/>
<rect x="545.5" y="544.12" width="8" height="9.94" fill="#d3d3d3"/>
<rect x="545.5" y="534.18" width="8" height="9.94" fill="#c4c4c4"/>
<rect x="545.5" y="524.24" width="8" height="9.94" fill="#b4b4b4"/>
<rect x="545.5" y="514.3" width="8" height="9.94" fill="#a6a6a6"/>
<rect x="545.5" y="504.36" width="8" height="9.94" fill="#9b9b9b"/>
<rect x="545.5" y="494.42" width="8" height="9.94" fill="#939aa0"/>
<rect x="545.5" y="484.48" width="8" height="9.94" fill="#8a9eae"/>
<rect x="545.5" y="474.54" width="8" height="9.94" fill="#80a4bc"/>
<rect x="545.5" y="464.6" width="8" height="9.94" fill="#76aacb"/>
<rect x="545.5" y="454.66" width="8" height="9.94" fill="#68b0da"/>
<rect x="545.5" y="444.72" width="8" height="9.94" fill="#5ab4e6"/>
<rect x="545.5" y="434.78" width="8" height="9.94" fill="#4cace4"/>
<rect x="545.5" y="424.84" width="8" height="9.94" fill="#40a2de"/>
<rect x="545.5" y="414.9" width="8" height="9.94" fill="#3698d8"/>
<rect x="545.5" y="404.96" width="8" height="9.94" fill="#2a8cd0"/>
<rect x="545.5" y="395.02" width="8" height="9.94" fill="#1e80c8"/>
<rect x="545.5" y="385.08" width="8" height="9.94" fill="#1476ba"/>
<rect x="545.5" y="375.14" width="8" height="9.94" fill="#0c72b0"/>
<rect x="545.5" y="365.2" width="8" height="9.94" fill="#0076a4"/>
<rect x="545.5" y="355.26" width="8" height="9.94" fill="#007e98"/>
<rect x="545.5" y="345.32" width="8" height="9.94" fill="#00868c"/>
<rect x="545.5" y="335.38" width="8" height="9.94" fill="#008e7e"/>
<rect x="545.5" y="325.44" width="8" height="9.94" fill="#0c9870"/>
<rect x="545.5" y="315.5" width="8" height="9.94" fill="#2ea866"/>
<rect x="545.5" y="305.56" width="8" height="9.94" fill="#5cb860"/>
<rect x="545.5" y="295.62" width="8" height="9.94" fill="#8ec652"/>
<rect x="545.5" y="285.68" width="8" height="9.94" fill="#c2d64a"/>
<rect x="545.5" y="275.74" width="8" height="9.94" fill="#eee244"/>
<rect x="545.5" y="265.8" width="8" height="9.94" fill="#efd23a"/>
<rect x="545.5" y="255.86" width="8" height="9.94" fill="#ecc430"/>
<rect x="545.5" y="245.92" width="8" height="9.94" fill="#eab828"/>
<rect x="545.5" y="235.98" width="8" height="9.94" fill="#e8ac20"/>
<rect x="545.5" y="226.04" width="8" height="9.94" fill="#e6a018"/>
<rect x="545.5" y="216.1" width="8" height="9.94" fill="#e49410"/>
<rect x="545.5" y="206.16" width="8" height="9.94" fill="#e28a08"/>
<rect x="545.5" y="196.22" width="8" height="9.94" fill="#e08000"/>
<rect x="545.5" y="186.28" width="8" height="9.94" fill="#de7600"/>
<rect x="545.5" y="176.34" width="8" height="9.94" fill="#da6c04"/>
<rect x="545.5" y="166.4" width="8" height="9.94" fill="#d6620c"/>
<rect x="545.5" y="156.46" width="8" height="9.94" fill="#d45c1c"/>
<rect x="545.5" y="146.52" width="8" height="9.94" fill="#d2602e"/>
<rect x="545.5" y="136.58" width="8" height="9.94" fill="#d06644"/>
<rect x="545.5" y="126.64" width="8" height="9.94" fill="#cc6c62"/>
<rect x="545.5" y="116.7" width="8" height="9.94" fill="#ca7088"/>
<rect x="545.5" y="106.76" width="8" height="9.94" fill="#d0689a"/>
<rect x="545.5" y="96.82" width="8" height="9.94" fill="#d85a88"/>
<rect x="545.5" y="86.88" width="8" height="9.94" fill="#e04a70"/>
<rect x="545.5" y="76.94" width="8" height="9.94" fill="#e83c58"/>
<rect x="545.5" y="67" width="8" height="9.94" fill="#f02a40"/>
<rect x="545.5" y="57" width="8" height="10" fill="#ff1010"/>
</g>
<rect x="545.5" y="57" width="8" height="507" fill="none" stroke="#888" stroke-width="0.8"/>
<g class="tk">
<line x1="553.5" y1="559" x2="560" y2="559"/><line x1="553.5" y1="509.3" x2="560" y2="509.3"/><line x1="553.5" y1="459.6" x2="560" y2="459.6"/><line x1="553.5" y1="409.9" x2="560" y2="409.9"/><line x1="553.5" y1="360.2" x2="560" y2="360.2"/><line x1="553.5" y1="310.5" x2="560" y2="310.5"/><line x1="553.5" y1="260.8" x2="560" y2="260.8"/><line x1="553.5" y1="211.1" x2="560" y2="211.1"/><line x1="553.5" y1="161.4" x2="560" y2="161.4"/><line x1="553.5" y1="111.7" x2="560" y2="111.7"/><line x1="553.5" y1="62" x2="560" y2="62"/>
</g>
<g class="lab">
<text x="567" y="563.3">0</text><text x="567" y="513.6">5</text><text x="567" y="463.9">10</text><text x="567" y="414.2">15</text><text x="567" y="364.5">20</text><text x="567" y="314.8">25</text><text x="567" y="265.1">30</text><text x="567" y="215.4">35</text><text x="567" y="165.7">40</text><text x="567" y="116">45</text><text x="567" y="66.3">50</text>
</g>

<!-- RIGHT COLORBAR -->
<text x="1147.5" y="51" text-anchor="middle" class="lab">ugm-3</text>
<g shape-rendering="crispEdges">
<rect x="1145.5" y="57" width="8" height="11.4" fill="#a0282a"/>
<rect x="1145.5" y="68.27" width="8" height="11.4" fill="#a82828"/>
<rect x="1145.5" y="79.53" width="8" height="11.4" fill="#c81e28"/>
<rect x="1145.5" y="90.8" width="8" height="11.4" fill="#e01018"/>
<rect x="1145.5" y="102.07" width="8" height="11.4" fill="#ff0000"/>
<rect x="1145.5" y="113.33" width="8" height="11.4" fill="#f02030"/>
<rect x="1145.5" y="124.6" width="8" height="11.4" fill="#e03858"/>
<rect x="1145.5" y="135.87" width="8" height="11.4" fill="#d05c88"/>
<rect x="1145.5" y="147.13" width="8" height="11.4" fill="#c87090"/>
<rect x="1145.5" y="158.4" width="8" height="11.4" fill="#cc6868"/>
<rect x="1145.5" y="169.67" width="8" height="11.4" fill="#d05c40"/>
<rect x="1145.5" y="180.93" width="8" height="11.4" fill="#d45a10"/>
<rect x="1145.5" y="192.2" width="8" height="11.4" fill="#dc6808"/>
<rect x="1145.5" y="203.47" width="8" height="11.4" fill="#e07c00"/>
<rect x="1145.5" y="214.73" width="8" height="11.4" fill="#e48e00"/>
<rect x="1145.5" y="226" width="8" height="11.4" fill="#e8a010"/>
<rect x="1145.5" y="237.27" width="8" height="11.4" fill="#ecb820"/>
<rect x="1145.5" y="248.53" width="8" height="11.4" fill="#f0cc30"/>
<rect x="1145.5" y="259.8" width="8" height="11.4" fill="#f0e050"/>
<rect x="1145.5" y="271.07" width="8" height="11.4" fill="#f0e488"/>
<rect x="1145.5" y="282.33" width="8" height="11.4" fill="#ece4b8"/>
<rect x="1145.5" y="293.6" width="8" height="22.6" fill="#e4e4e4"/>
<rect x="1145.5" y="316.13" width="8" height="11.4" fill="#c8e0c8"/>
<rect x="1145.5" y="327.4" width="8" height="11.4" fill="#a8d8a0"/>
<rect x="1145.5" y="338.67" width="8" height="11.4" fill="#88d080"/>
<rect x="1145.5" y="349.93" width="8" height="11.4" fill="#68c070"/>
<rect x="1145.5" y="361.2" width="8" height="11.4" fill="#40b070"/>
<rect x="1145.5" y="372.47" width="8" height="11.4" fill="#18a070"/>
<rect x="1145.5" y="383.73" width="8" height="11.4" fill="#009078"/>
<rect x="1145.5" y="395" width="8" height="11.4" fill="#008890"/>
<rect x="1145.5" y="406.27" width="8" height="11.4" fill="#0080a0"/>
<rect x="1145.5" y="417.53" width="8" height="11.4" fill="#0070b8"/>
<rect x="1145.5" y="428.8" width="8" height="11.4" fill="#0060d0"/>
<rect x="1145.5" y="440.07" width="8" height="11.4" fill="#0050e0"/>
<rect x="1145.5" y="451.33" width="8" height="11.4" fill="#1040f0"/>
<rect x="1145.5" y="462.6" width="8" height="11.4" fill="#3030f8"/>
<rect x="1145.5" y="473.87" width="8" height="11.4" fill="#5020f0"/>
<rect x="1145.5" y="485.13" width="8" height="11.4" fill="#7020e8"/>
<rect x="1145.5" y="496.4" width="8" height="11.4" fill="#8818e0"/>
<rect x="1145.5" y="507.67" width="8" height="11.4" fill="#9020c8"/>
<rect x="1145.5" y="518.93" width="8" height="11.4" fill="#8820b0"/>
<rect x="1145.5" y="530.2" width="8" height="11.4" fill="#7828a0"/>
<rect x="1145.5" y="541.47" width="8" height="22.53" fill="#702890"/>
</g>
<rect x="1145.5" y="57" width="8" height="507" fill="none" stroke="#888" stroke-width="0.8"/>
<g class="tk">
<line x1="1153.5" y1="62.5" x2="1160" y2="62.5"/><line x1="1153.5" y1="84.3" x2="1160" y2="84.3"/><line x1="1153.5" y1="198" x2="1160" y2="198"/><line x1="1153.5" y1="310" x2="1160" y2="310"/><line x1="1153.5" y1="423.8" x2="1160" y2="423.8"/><line x1="1153.5" y1="537.6" x2="1160" y2="537.6"/><line x1="1153.5" y1="559" x2="1160" y2="559"/>
</g>
<g class="lab">
<text x="1167" y="66.8">3000</text><text x="1167" y="88.6">40</text><text x="1167" y="202.3">20</text><text x="1167" y="314.3">0</text><text x="1167" y="428.1">-20</text><text x="1167" y="541.9">-40</text><text x="1167" y="563.3">-450</text>
</g>
</svg>
</body></html>
